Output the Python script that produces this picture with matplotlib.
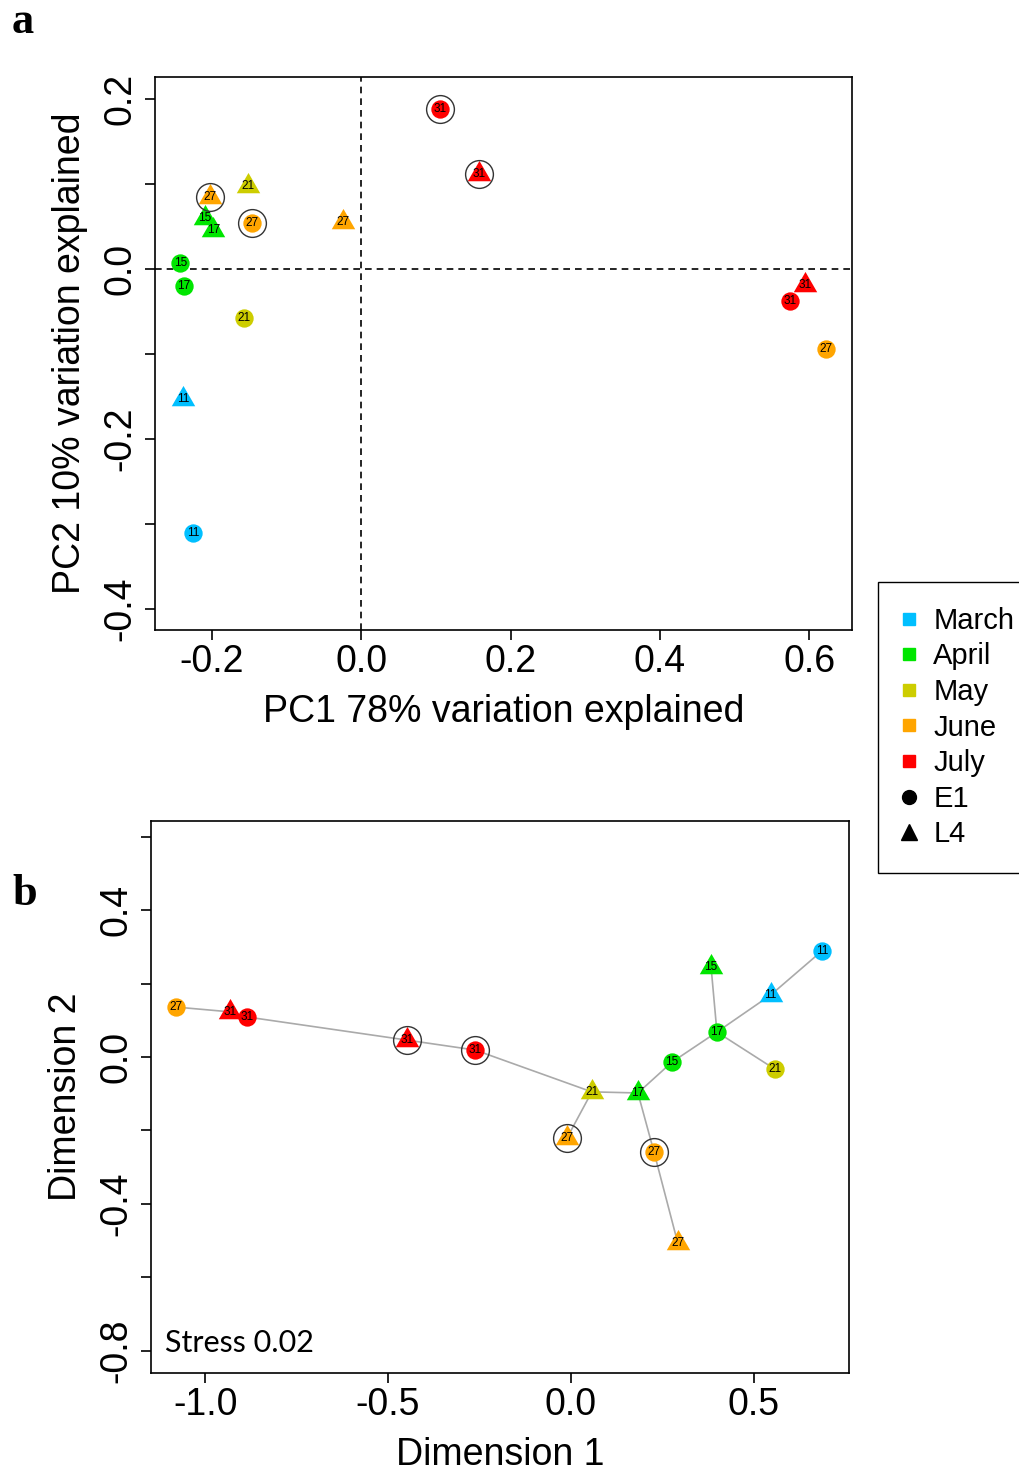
import numpy as np
import matplotlib
matplotlib.use('Agg')
import matplotlib.pyplot as plt
from matplotlib.path import Path
from matplotlib.lines import Line2D

plt.rcParams['font.family'] = ['Liberation Sans', 'DejaVu Sans']
plt.rcParams['axes.unicode_minus'] = False

# 月份与颜色
months = ['March', 'April', 'May', 'June', 'July']
month_colors = ['#00BFFF', '#00E600', '#CDCD00', '#FFA500', '#FF0000']

# 每个样本：月份序号、站点、日期、是否圈出
sample_month = [0, 0, 1, 1, 1, 1, 2, 2, 3, 3, 3, 3, 4, 4, 4, 4]
sample_site = ['E1', 'L4', 'E1', 'E1', 'L4', 'L4', 'E1', 'L4',
               'E1', 'L4', 'E1', 'L4', 'E1', 'L4', 'E1', 'L4']
sample_day = ['11', '11', '15', '17', '15', '17', '21', '21',
              '27', '27', '27', '27', '31', '31', '31', '31']
sample_circled = [False, False, False, False, False, False, False, False,
                  True, True, False, False, True, True, False, False]

# a: PCA
pca_x = [-0.225, -0.238, -0.242, -0.237, -0.209, -0.198, -0.157, -0.151,
         -0.146, -0.202, 0.622, -0.025, 0.106, 0.158, 0.574, 0.594]
pca_y = [-0.311, -0.153, 0.007, -0.020, 0.060, 0.046, -0.058, 0.098,
         0.054, 0.085, -0.094, 0.055, 0.188, 0.112, -0.038, -0.019]

# b: NMDS
nmds_x = [0.686, 0.546, 0.276, 0.399, 0.383, 0.183, 0.557, 0.057,
          0.227, -0.011, -1.079, 0.292, -0.262, -0.448, -0.885, -0.932]
nmds_y = [0.289, 0.169, -0.014, 0.068, 0.245, -0.098, -0.033, -0.095,
          -0.259, -0.221, 0.136, -0.507, 0.019, 0.046, 0.109, 0.123]

# 最小生成树的连线
mst_edges = [(10, 15), (15, 14), (14, 13), (13, 12), (12, 7), (7, 5), (7, 9),
             (5, 2), (5, 8), (8, 11), (2, 3), (3, 4), (3, 1), (1, 0), (3, 6)]

# R 风格三角形（重心在点上）
tri = Path([(0, 1.555), (-1.347, -0.778), (1.347, -0.778), (0, 1.555)],
           [Path.MOVETO, Path.LINETO, Path.LINETO, Path.CLOSEPOLY])
site_marker = {'E1': 'o', 'L4': tri}
site_size = {'E1': 13.2, 'L4': 19.5}


def draw_points(ax, xs, ys):
    for i in range(len(xs)):
        c = month_colors[sample_month[i]]
        ax.plot(xs[i], ys[i], marker=site_marker[sample_site[i]], ms=site_size[sample_site[i]],
                color=c, mec='none', ls='none', zorder=3)
        if sample_circled[i]:
            ax.plot(xs[i], ys[i], marker='o', ms=20, mfc='none', mec='#333333',
                    mew=1.0, ls='none', zorder=4)
        ax.text(xs[i], ys[i], sample_day[i], fontsize=8.5, ha='center', va='center', zorder=5)


def style_axis(ax):
    for s in ax.spines.values():
        s.set_linewidth(1.2)
    ax.tick_params(length=7, width=1.2, labelsize=27, pad=3)
    ax.tick_params(axis='y', labelrotation=90, pad=5)


fig = plt.figure(figsize=(10.2, 14.7), dpi=100)

# ---- a ----
ax1 = fig.add_axes([155 / 1020, 1 - 630 / 1470, 697 / 1020, 553 / 1470])
ax1.axhline(0, color='black', ls=(0, (4, 3)), lw=1.2, zorder=1)
ax1.axvline(0, color='black', ls=(0, (4, 3)), lw=1.2, zorder=1)
draw_points(ax1, pca_x, pca_y)
ax1.set_xlim(-0.276, 0.657)
ax1.set_ylim(-0.425, 0.226)
ax1.set_xticks([-0.2, 0.0, 0.2, 0.4, 0.6])
ax1.set_yticks([0.2, 0.1, 0.0, -0.1, -0.2, -0.3, -0.4],
               ['0.2', '', '0.0', '', '-0.2', '', '-0.4'])
style_axis(ax1)
for lab in ax1.get_yticklabels():
    lab.set_va('center')
ax1.set_xlabel('PC1 78% variation explained', fontsize=27, labelpad=10)
ax1.set_ylabel('PC2 10% variation explained', fontsize=27, labelpad=10)

# ---- b ----
ax2 = fig.add_axes([151 / 1020, 1 - 1373 / 1470, 698 / 1020, 552 / 1470])
for a, b in mst_edges:
    ax2.plot([nmds_x[a], nmds_x[b]], [nmds_y[a], nmds_y[b]], color='#AAAAAA', lw=1.2, zorder=1)
draw_points(ax2, nmds_x, nmds_y)
ax2.set_xlim(-1.148, 0.760)
ax2.set_ylim(-0.861, 0.643)
ax2.set_xticks([-1.0, -0.5, 0.0, 0.5])
ax2.set_yticks([0.6, 0.4, 0.2, 0.0, -0.2, -0.4, -0.6, -0.8],
               ['', '0.4', '', '0.0', '', '-0.4', '', '-0.8'])
style_axis(ax2)
for lab in ax2.get_yticklabels():
    lab.set_va('center')
ax2.set_xlabel('Dimension 1', fontsize=27, labelpad=10)
ax2.set_ylabel('Dimension 2', fontsize=27, labelpad=10)
ax2.text(0.02, 0.055, 'Stress 0.02', transform=ax2.transAxes, fontsize=22,
         family=['Lato', 'DejaVu Sans'], ha='left', va='center')

# 面板标记
fig.text(12 / 1020, 1 - 33 / 1470, 'a', fontsize=32, fontweight='bold',
         family=['Liberation Serif'], ha='left', va='baseline')
fig.text(12 / 1020, 1 - 905 / 1470, 'b', fontsize=32, fontweight='bold',
         family=['Liberation Serif'], ha='left', va='baseline')

# 图例
handles = [Line2D([], [], marker='s', ls='none', color=c, ms=9) for c in month_colors]
handles += [Line2D([], [], marker='o', ls='none', color='black', ms=10),
            Line2D([], [], marker='^', ls='none', color='black', ms=11)]
leg = fig.legend(handles, months + ['E1', 'L4'], loc='upper left',
                 bbox_to_anchor=(878 / 1020, 1 - 582 / 1470), fontsize=21,
                 frameon=True, fancybox=False, edgecolor='black', framealpha=1,
                 labelspacing=0.26, handlelength=0.4, handletextpad=0.65,
                 borderpad=0.85, borderaxespad=0)
leg.get_frame().set_linewidth(1.0)

fig.savefig('out.png', dpi=100)
